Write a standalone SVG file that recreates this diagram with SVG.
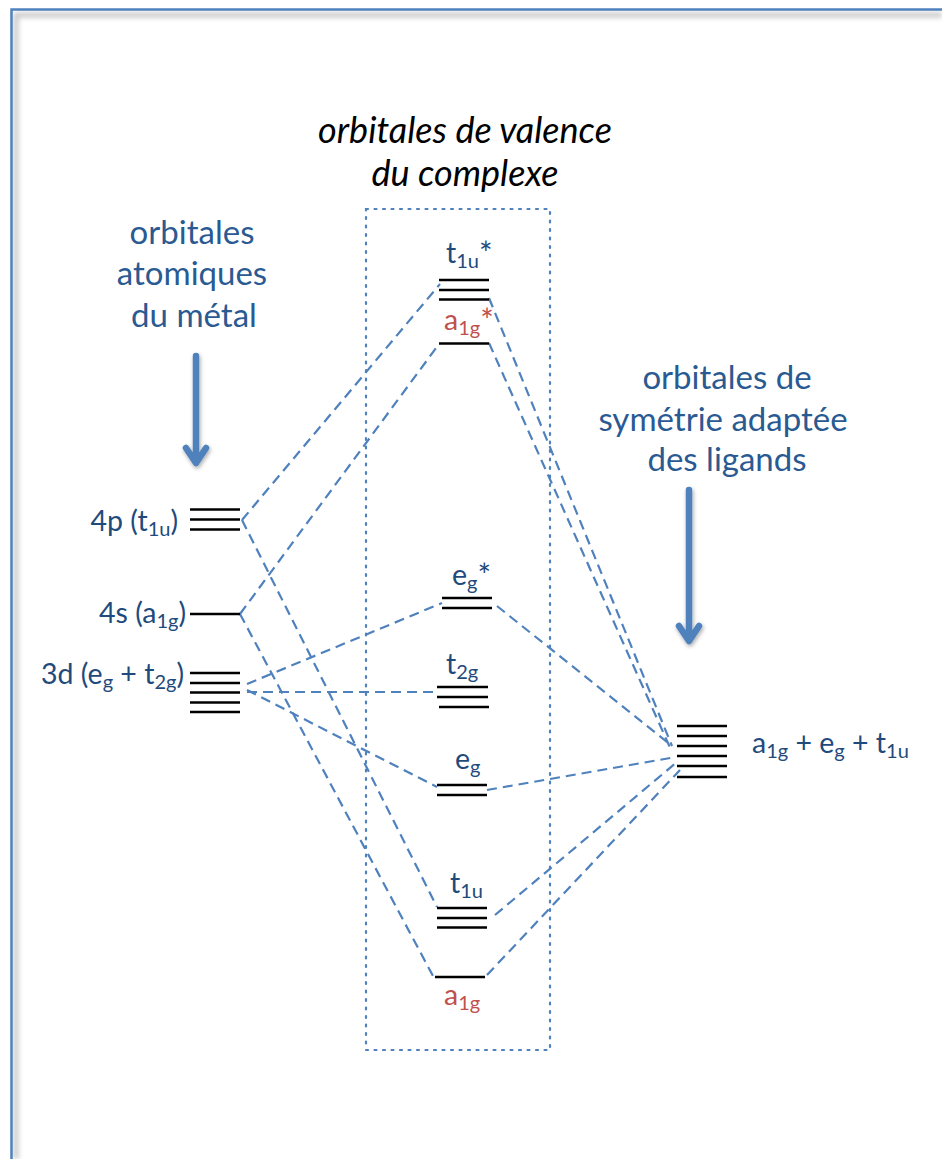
<svg xmlns="http://www.w3.org/2000/svg" width="942" height="1159" viewBox="0 0 942 1159">
  <defs>
    <filter id="soft" x="-20%" y="-20%" width="140%" height="140%">
      <feGaussianBlur stdDeviation="2.5"/>
    </filter>
    <filter id="arrowShadow" x="-50%" y="-20%" width="200%" height="140%">
      <feGaussianBlur in="SourceAlpha" stdDeviation="2"/>
      <feOffset dx="1" dy="2" result="b"/>
      <feComponentTransfer><feFuncA type="linear" slope="0.35"/></feComponentTransfer>
      <feMerge><feMergeNode/><feMergeNode in="SourceGraphic"/></feMerge>
    </filter>
  </defs>
  <style>
    .lvl { stroke: #000; stroke-width: 2.6; }
    .conn { fill: none; stroke: #4F81BD; stroke-width: 2.2; stroke-dasharray: 10 6; }
    .lbl { font-family: Lato, "Open Sans", sans-serif; font-size: 28.5px; fill: #1F4A7C; }
    .red { fill: #C0504D; }
    .hdr { font-family: Lato, "Open Sans", sans-serif; font-size: 33px; fill: #2A5A92; text-anchor: middle; }
    .ttl { font-family: Lato, "Open Sans", sans-serif; font-size: 36px; font-style: italic; fill: #000; text-anchor: middle; }
    .sub { font-size: 20px; }
    .ast { font-size: 32px; }
    .arrow { fill: none; stroke: #4F81BD; stroke-width: 6.5; stroke-linecap: round; stroke-linejoin: round; }
  </style>

  <!-- page frame with soft inner shadow -->
  <rect x="0" y="0" width="942" height="1159" fill="#fff"/>
  <path d="M14 15 H942 M16 13 V1159" stroke="#c8c8c8" stroke-width="5" filter="url(#soft)" fill="none"/>
  <path d="M11.5 1159 V9.5 H942" fill="none" stroke="#4F81BD" stroke-width="2.5"/>

  <!-- dotted box around the complex orbitals -->
  <rect id="complex-box" x="366" y="209" width="184" height="841" fill="none" stroke="#4F81BD" stroke-width="2.2" stroke-dasharray="2 6.5" stroke-linecap="round"/>

  <!-- headers -->
  <g id="title">
    <text class="ttl" x="465" y="143">orbitales de valence</text>
    <text class="ttl" x="465" y="186">du complexe</text>
  </g>
  <g id="metal-header">
    <text class="hdr" x="192" y="244">orbitales</text>
    <text class="hdr" x="192" y="285">atomiques</text>
    <text class="hdr" x="194" y="327">du métal</text>
    <g filter="url(#arrowShadow)">
      <path class="arrow" d="M196 356 V462 M186 448 L196 463 L206 448"/>
    </g>
  </g>
  <g id="ligand-header">
    <text class="hdr" x="727" y="389">orbitales de</text>
    <text class="hdr" x="723" y="431">symétrie adaptée</text>
    <text class="hdr" x="727" y="471">des ligands</text>
    <g filter="url(#arrowShadow)">
      <path class="arrow" d="M689 490 V640 M679 626 L689 641 L699 626"/>
    </g>
  </g>

  <!-- connectors -->
  <g id="connectors">
    <path class="conn" d="M242 520 L440 284"/>
    <path class="conn" d="M242 520 L437 907"/>
    <path class="conn" d="M240 614 L439 344"/>
    <path class="conn" d="M240 614 L433 976"/>
    <path class="conn" d="M247 684 L442 603"/>
    <path class="conn" d="M247 692 L437 692"/>
    <path class="conn" d="M247 690 L437 787"/>
    <path class="conn" d="M489 298 L672 746"/>
    <path class="conn" d="M489 343 L672 752"/>
    <path class="conn" d="M497 606 L672 746"/>
    <path class="conn" d="M487 790 L676 757"/>
    <path class="conn" d="M495 915 L677 762"/>
    <path class="conn" d="M487 975 L680 770"/>
  </g>

  <!-- metal atomic orbitals -->
  <g id="metal-4p">
    <path class="lvl" d="M190 509.5 H240 M190 519.5 H240 M190 529.5 H240"/>
    <text class="lbl" x="178" y="531" text-anchor="end">4p (t<tspan class="sub" dy="5">1u</tspan><tspan dy="-5">)</tspan></text>
  </g>
  <g id="metal-4s">
    <path class="lvl" d="M190 614 H240"/>
    <text class="lbl" x="186" y="623" text-anchor="end">4s (a<tspan class="sub" dy="5">1g</tspan><tspan dy="-5">)</tspan></text>
  </g>
  <g id="metal-3d">
    <path class="lvl" d="M190 673 H240 M190 683 H240 M190 692.5 H240 M190 702.5 H240 M190 712 H240"/>
    <text class="lbl" x="184" y="684" text-anchor="end">3d (e<tspan class="sub" dy="5">g</tspan><tspan dy="-5"> + t</tspan><tspan class="sub" dy="5">2g</tspan><tspan dy="-5">)</tspan></text>
  </g>

  <!-- complex molecular orbitals -->
  <g id="mo-t1u-star">
    <path class="lvl" d="M439 280 H489 M439 290 H489 M439 299.5 H489"/>
    <text class="lbl" x="446" y="263">t<tspan class="sub" dy="5">1u</tspan><tspan class="ast" dy="-3">*</tspan></text>
  </g>
  <g id="mo-a1g-star">
    <path class="lvl" d="M439 343.5 H489"/>
    <text class="lbl red" x="444" y="330">a<tspan class="sub" dy="5">1g</tspan><tspan class="ast" dy="-3">*</tspan></text>
  </g>
  <g id="mo-eg-star">
    <path class="lvl" d="M442 598 H492 M442 608 H492"/>
    <text class="lbl" x="452" y="585">e<tspan class="sub" dy="5">g</tspan><tspan class="ast" dy="-3">*</tspan></text>
  </g>
  <g id="mo-t2g">
    <path class="lvl" d="M437 687 H488 M437 697 H488 M439 707 H489"/>
    <text class="lbl" x="446" y="674">t<tspan class="sub" dy="5">2g</tspan></text>
  </g>
  <g id="mo-eg">
    <path class="lvl" d="M437 785 H487 M437 795 H487"/>
    <text class="lbl" x="455" y="769">e<tspan class="sub" dy="5">g</tspan></text>
  </g>
  <g id="mo-t1u">
    <path class="lvl" d="M437 908 H487 M437 918 H487 M437 927.5 H487"/>
    <text class="lbl" x="450" y="893">t<tspan class="sub" dy="5">1u</tspan></text>
  </g>
  <g id="mo-a1g">
    <path class="lvl" d="M435 977 H485"/>
    <text class="lbl red" x="444" y="1005">a<tspan class="sub" dy="5">1g</tspan></text>
  </g>

  <!-- ligand group orbitals -->
  <g id="ligand-salc">
    <path class="lvl" d="M677 726 H727 M677 736 H727 M677 746 H727 M677 756 H727 M677 766 H727 M677 777 H727"/>
    <text class="lbl" x="752" y="753">a<tspan class="sub" dy="5">1g</tspan><tspan dy="-5"> + e</tspan><tspan class="sub" dy="5">g</tspan><tspan dy="-5"> + t</tspan><tspan class="sub" dy="5">1u</tspan></text>
  </g>
</svg>
